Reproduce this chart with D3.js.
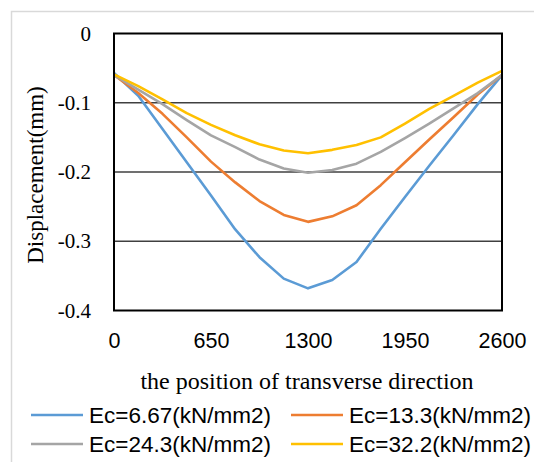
<!DOCTYPE html>
<html>
<head>
<meta charset="utf-8">
<script src="https://cdn.jsdelivr.net/npm/d3@7"></script>
<style>
  body { margin: 0; background: #fff; }
  #graf { width: 534px; height: 462px; }
  .serif { font-family: "Liberation Serif", "Times New Roman", serif; fill: #000; }
  .sans { font-family: "Liberation Sans", Arial, sans-serif; fill: #000; }
</style>
</head>
<body>
<div id="graf"></div>
<script>
// Datos
const posiciones = [0, 162.5, 325, 487.5, 650, 812.5, 975, 1137.5, 1300,
  1462.5, 1625, 1787.5, 1950, 2112.5, 2275, 2437.5, 2600]

const serieNombres = ["Ec=6.67(kN/mm2)", "Ec=13.3(kN/mm2)", "Ec=24.3(kN/mm2)", "Ec=32.2(kN/mm2)"]
const serieColores = ["#5b9bd5", "#ed7d31", "#a5a5a5", "#ffc000"]

const ec667 = [-0.057, -0.090, -0.138, -0.186, -0.234, -0.283, -0.323, -0.354, -0.368,
  -0.356, -0.330, -0.282, -0.236, -0.191, -0.147, -0.102, -0.060]
const ec133 = [-0.060, -0.086, -0.116, -0.150, -0.185, -0.215, -0.242, -0.262, -0.272,
  -0.264, -0.248, -0.219, -0.186, -0.153, -0.121, -0.088, -0.060]
const ec243 = [-0.060, -0.081, -0.102, -0.125, -0.147, -0.164, -0.182, -0.195, -0.201,
  -0.197, -0.188, -0.171, -0.151, -0.130, -0.108, -0.086, -0.060]
const ec322 = [-0.059, -0.076, -0.095, -0.115, -0.132, -0.147, -0.160, -0.169, -0.173,
  -0.168, -0.161, -0.150, -0.130, -0.109, -0.090, -0.071, -0.054]

const xTicks = [0, 650, 1300, 1950, 2600]
const yTicks = [0, -0.1, -0.2, -0.3, -0.4]
const yLabels = ["0", "-0.1", "-0.2", "-0.3", "-0.4"]

const series = [ec667, ec133, ec243, ec322]

// Dimensiones
const anchoTotal = 534
const altoTotal = 462
const margins = { top: 33.5, left: 114, right: 32, bottom: 151.5 }
const ancho = anchoTotal - margins.left - margins.right
const alto = altoTotal - margins.top - margins.bottom

const svg = d3.select("#graf")
  .append("svg")
  .attr("width", anchoTotal)
  .attr("height", altoTotal)

// marco exterior gris
svg.append("rect")
  .attr("x", 11.5).attr("y", 11.5)
  .attr("width", 600).attr("height", 600)
  .attr("fill", "white")
  .attr("stroke", "#d9d9d9")
  .attr("stroke-width", 1.5)

const g = svg.append("g")
  .attr("transform", `translate(${margins.left}, ${margins.top})`)

// Escaladores
const x = d3.scaleLinear().domain([0, 2600]).range([0, ancho])
const y = d3.scaleLinear().domain([-0.4, 0]).range([alto, 0])

// rejilla
g.append("g")
  .selectAll("line")
  .data(yTicks.slice(1, -1))
  .join("line")
  .attr("x1", 0).attr("x2", ancho)
  .attr("y1", (d) => y(d)).attr("y2", (d) => y(d))
  .attr("stroke", "#404040")
  .attr("stroke-width", 1.4)

// Ejes
const yAxis = d3.axisLeft(y)
  .tickValues(yTicks)
  .tickSize(0)
  .tickPadding(23)
  .tickFormat((d, i) => yLabels[i])
const yAxisGroup = g.append("g").call(yAxis)
yAxisGroup.select(".domain").remove()
yAxisGroup.selectAll("text")
  .attr("class", "serif")
  .style("font-size", "21px")

const xAxis = d3.axisBottom(x)
  .tickValues(xTicks)
  .tickSize(0)
  .tickPadding(22)
  .tickFormat((d) => d)
const xAxisGroup = g.append("g")
  .attr("transform", `translate(0, ${alto})`)
  .call(xAxis)
xAxisGroup.select(".domain").remove()
xAxisGroup.selectAll("text")
  .attr("class", "sans")
  .style("font-size", "21.5px")

// Líneas
const linea = d3.line()
  .x((d, i) => x(posiciones[i]))
  .y((d) => y(d))

g.append("g")
  .selectAll("path")
  .data(series)
  .join("path")
  .attr("d", linea)
  .attr("fill", "none")
  .attr("stroke", (d, i) => serieColores[i])
  .attr("stroke-width", 2.6)
  .attr("stroke-linejoin", "round")

// borde del área
g.append("rect")
  .attr("width", ancho).attr("height", alto)
  .attr("fill", "none")
  .attr("stroke", "#000")
  .attr("stroke-width", 2)

// Títulos
svg.append("text")
  .attr("class", "serif")
  .attr("transform", `translate(35, ${margins.top + alto / 2 + 3}) rotate(-90)`)
  .attr("text-anchor", "middle")
  .attr("dy", "0.35em")
  .style("font-size", "23px")
  .text("Displacement(mm)")

svg.append("text")
  .attr("class", "serif")
  .attr("x", 307)
  .attr("y", 381)
  .attr("text-anchor", "middle")
  .attr("dy", "0.33em")
  .style("font-size", "24px")
  .text("the position of transverse direction")

// Leyenda
const legX = [31, 291]
const legY = [415, 444]
const leg = svg.append("g")
  .selectAll("g")
  .data(serieNombres)
  .join("g")
  .attr("transform", (d, i) => `translate(${legX[i % 2]}, ${legY[Math.floor(i / 2)]})`)

leg.append("line")
  .attr("x1", 0).attr("x2", 52)
  .attr("stroke", (d, i) => serieColores[i])
  .attr("stroke-width", 2.6)

leg.append("text")
  .attr("class", "sans")
  .attr("x", 58)
  .attr("dy", "0.35em")
  .style("font-size", "22.5px")
  .text((d) => d)
</script>
</body>
</html>
